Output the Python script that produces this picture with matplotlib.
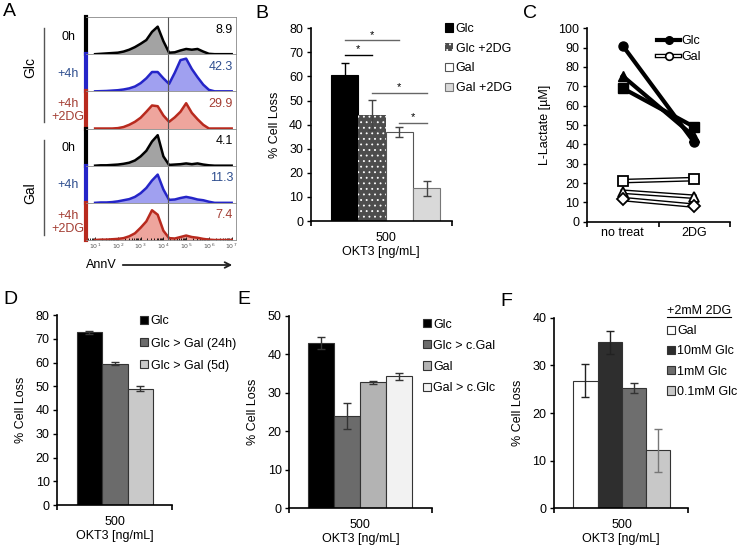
import numpy as np
import matplotlib
matplotlib.use("Agg")
import matplotlib.pyplot as plt
from matplotlib.lines import Line2D
from matplotlib.patches import FancyArrowPatch

plt.rcParams['font.family'] = ['Liberation Sans', 'DejaVu Sans']
plt.rcParams['font.size'] = 9
plt.rcParams['hatch.linewidth'] = 0.6

W, H = 739, 549

# ---------------- data ----------------
# A: AnnV histograms, x in log10(AnnV), heights relative to row height
annv_log = [1.0, 1.25, 1.5, 1.75, 2.0, 2.25, 2.5, 2.75, 3.0, 3.25, 3.5, 3.75,
            4.0, 4.25, 4.5, 4.75, 5.0, 5.25, 5.5, 5.75, 6.0, 6.25, 6.5, 6.75, 7.0]
glc_0h = [0, 0.01, 0.02, 0.03, 0.04, 0.07, 0.12, 0.19, 0.28, 0.38, 0.60, 0.74,
          0.35, 0.04, 0.05, 0.10, 0.14, 0.12, 0.14, 0.07, 0.01, 0, 0, 0, 0]
glc_4h = [0, 0.005, 0.01, 0.02, 0.03, 0.05, 0.08, 0.13, 0.22, 0.35, 0.52, 0.52,
          0.35, 0.20, 0.50, 0.84, 0.88, 0.60, 0.38, 0.18, 0.04, 0, 0, 0, 0]
glc_4h_2dg = [0, 0, 0, 0, 0.01, 0.04, 0.10, 0.18, 0.29, 0.45, 0.62, 0.60,
              0.35, 0.18, 0.30, 0.45, 0.68, 0.42, 0.25, 0.10, 0, 0, 0, 0, 0]
gal_0h = [0, 0.01, 0.01, 0.02, 0.03, 0.05, 0.08, 0.14, 0.25, 0.40, 0.65, 0.82,
          0.25, 0.02, 0.03, 0.04, 0.06, 0.04, 0.06, 0.03, 0.01, 0, 0, 0, 0]
gal_4h = [0, 0.01, 0.01, 0.02, 0.04, 0.07, 0.10, 0.16, 0.26, 0.40, 0.60, 0.76,
          0.36, 0.08, 0.09, 0.13, 0.16, 0.13, 0.09, 0.07, 0.03, 0, 0, 0, 0]
gal_4h_2dg = [0, 0.01, 0.01, 0.02, 0.03, 0.05, 0.10, 0.18, 0.33, 0.50, 0.80, 0.68,
              0.25, 0.05, 0.04, 0.08, 0.12, 0.08, 0.06, 0.03, 0.01, 0, 0, 0, 0]
annv_pct = ['8.9', '42.3', '29.9', '4.1', '11.3', '7.4']
row_labels = ['0h', '+4h', '+4h\n+2DG', '0h', '+4h', '+4h\n+2DG']
gate_log = 4.21

# B
b_labels = ['Glc', 'Glc +2DG', 'Gal', 'Gal +2DG']
b_vals = [60.5, 44.0, 37.0, 13.5]
b_errs = [5.0, 6.2, 2.0, 3.0]
b_sig = [(0, 1, 69.0), (0, 2, 75.0), (1, 3, 53.3), (2, 3, 40.7)]

# C
c_groups = ['no treat', '2DG']
c_glc = [[91.0, 41.0], [75.3, 44.0], [69.0, 49.0]]
c_gal = [[21.0, 22.0], [15.5, 12.9], [11.7, 8.3]]

# D
d_labels = ['Glc', 'Glc > Gal (24h)', 'Glc > Gal (5d)']
d_vals = [72.7, 59.5, 49.0]
d_errs = [0.6, 0.6, 1.2]

# E
e_labels = ['Glc', 'Glc > c.Gal', 'Gal', 'Gal > c.Glc']
e_vals = [43.0, 24.0, 32.8, 34.3]
e_errs = [1.6, 3.3, 0.4, 1.0]

# F
f_labels = ['Gal', '10mM Glc', '1mM Glc', '0.1mM Glc']
f_vals = [26.8, 34.8, 25.3, 12.2]
f_errs = [3.4, 2.5, 1.0, 4.5]


def px_rect(x0, y0, x1, y1):
    return [x0 / W, 1 - y1 / H, (x1 - x0) / W, (y1 - y0) / H]


def fx(x):
    return x / W


def fy(y):
    return 1 - y / H


fig = plt.figure(figsize=(W / 100, H / 100), dpi=100)

# ---------------- panel A ----------------
hists = [glc_0h, glc_4h, glc_4h_2dg, gal_0h, gal_4h, gal_4h_2dg]
line_cols = ['black', '#2525c8', '#b82a1e'] * 2
fill_cols = ['#a3a3a3', '#a0a0f0', '#eea59d'] * 2
text_cols = ['black', '#2d4d8e', '#a33d33'] * 2
xs = 10 ** np.array(annv_log)
top, bot = 17, 240
rh = (bot - top) / 6
for k in range(6):
    ax = fig.add_axes(px_rect(86, top + k * rh, 236, top + (k + 1) * rh))
    ax.fill_between(xs, hists[k], color=fill_cols[k], lw=0)
    ax.plot(xs, hists[k], color=line_cols[k], lw=1.8)
    ax.set_xscale('log')
    ax.set_xlim(10 ** 0.6, 10 ** 7.19)
    ax.set_ylim(0, 1)
    ax.axvline(10 ** gate_log, color='#555555', lw=0.8)
    for s in ['top', 'right', 'bottom']:
        ax.spines[s].set_color('#888888')
        ax.spines[s].set_linewidth(0.6)
    ax.spines['left'].set_color(line_cols[k])
    ax.spines['left'].set_linewidth(3)
    ax.set_yticks([])
    ax.text(0.98, 0.66, annv_pct[k], transform=ax.transAxes, ha='right',
            va='center', color=text_cols[k], fontsize=9)
    fig.text(fx(68), fy(top + (k + 0.5) * rh + 1), row_labels[k], ha='center',
             va='center', color=text_cols[k], fontsize=9, linespacing=1.1)
    if k < 5:
        ax.set_xticks([])
        ax.minorticks_off()
    else:
        ax.set_xticks([10 ** d for d in range(1, 8)],
                      ['$10^{%d}$' % d for d in range(1, 8)])
        ax.tick_params(axis='x', which='both', direction='in', labelsize=4.5,
                       labelcolor='#555555', pad=1.5, width=0.6)
        ax.tick_params(axis='x', which='major', length=2.5)
        ax.tick_params(axis='x', which='minor', length=1.5)

fig.text(fx(30), fy(68), 'Glc', rotation=90, ha='center', va='center', fontsize=10)
fig.text(fx(30), fy(193), 'Gal', rotation=90, ha='center', va='center', fontsize=10)
fig.add_artist(Line2D([fx(44.3)] * 2, [fy(28), fy(122)], color='#555555', lw=1))
fig.add_artist(Line2D([fx(44.3)] * 2, [fy(140), fy(235)], color='#555555', lw=1))
fig.text(fx(86), fy(265), 'AnnV', ha='left', va='center', fontsize=9)
fig.add_artist(FancyArrowPatch((fx(120), fy(265)), (fx(235), fy(265)),
                               transform=fig.transFigure, arrowstyle='->',
                               mutation_scale=10, lw=1.3, color='#222222'))


# ---------------- bar panels ----------------
def bar_panel(rect, labels, vals, errs, colors, edges, ecols, ymax, ystep,
              bar_left, bar_w, leg_xy, leg_space, hatches=None):
    x0, y0, x1, y1 = rect
    ax = fig.add_axes(px_rect(*rect))
    lo = -0.5 - (bar_left - x0) / bar_w
    hi = lo + (x1 - x0) / bar_w
    n = len(vals)
    for i in range(n):
        h = hatches[i] if hatches else None
        ax.bar(i, vals[i], width=1.0, color=colors[i], edgecolor=edges[i],
               lw=0.8 if h is None else 0, hatch=h, label=labels[i], zorder=2)
        ax.errorbar(i, vals[i], yerr=errs[i], fmt='none', ecolor=ecols[i],
                    elinewidth=1, capsize=3, capthick=1, zorder=3)
    ax.set_xlim(lo, hi)
    ax.set_ylim(0, ymax)
    ax.set_yticks(np.arange(0, ymax + 1, ystep))
    for s in ['top', 'right']:
        ax.spines[s].set_visible(False)
    for s in ['left', 'bottom']:
        ax.spines[s].set_linewidth(1.2)
    ax.set_xticks([(n - 1) / 2], ['500'])
    ax.set_xticks([lo, hi], minor=True)
    ax.tick_params(axis='x', which='major', length=0, pad=8)
    ax.tick_params(axis='x', which='minor', length=3.5, width=1.2)
    ax.tick_params(axis='y', length=3, width=1, pad=2.5)
    ax.set_xlabel('OKT3 [ng/mL]', labelpad=1)
    ax.set_ylabel('% Cell Loss', labelpad=6)
    lx, ly = leg_xy
    ax.legend(loc='upper left', bbox_to_anchor=(fx(lx), fy(ly - 6.5)),
              bbox_transform=fig.transFigure, frameon=False, borderpad=0,
              borderaxespad=0, handlelength=0.65, handleheight=0.65,
              handletextpad=0.2, labelspacing=(leg_space - 13.5) / 12.5)
    return ax


axb = bar_panel((310.7, 28.3, 451.7, 221), b_labels, b_vals, b_errs,
                ['black', '#4d4d4d', 'white', '#d9d9d9'],
                ['black', 'white', '#555555', '#777777'],
                ['black', '#444444', '#444444', '#444444'],
                80, 10, 331, 27.3, (445, 29.5), 21.2,
                hatches=[None, '...', None, None])
sig_cols = ['black', '#666666', '#666666', '#666666']
for (i, j, y), c in zip(b_sig, sig_cols):
    axb.plot([i, j], [y, y], color=c, lw=1, zorder=4)
    axb.text((i + j) / 2, y + 0.3, '*', ha='center', va='bottom', fontsize=8)

bar_panel((57.3, 315, 171.7, 505), d_labels, d_vals, d_errs,
          ['black', '#6b6b6b', '#c9c9c9'], ['#333333'] * 3, ['#333333'] * 3,
          80, 10, 76.7, 25.4, (140, 322), 23.5)

bar_panel((289.3, 316, 431.7, 508.3), e_labels, e_vals, e_errs,
          ['black', '#6b6b6b', '#b3b3b3', '#f2f2f2'], ['#333333'] * 4,
          ['#333333'] * 4, 50, 10, 308, 26.1, (422.7, 325), 22.7)

bar_panel((554, 317.7, 688.3, 508.3), f_labels, f_vals, f_errs,
          ['white', '#2e2e2e', '#6e6e6e', '#c8c8c8'], ['#333333'] * 4,
          ['#222222', '#222222', '#333333', '#777777'],
          40, 10, 573.3, 24.2, (666.7, 331.7), 21.7)
fig.text(fx(666.7), fy(310.5), '+2mM 2DG', ha='left', va='center', fontsize=9)
fig.add_artist(Line2D([fx(666.7), fx(731)], [fy(316.5), fy(316.5)], color='black', lw=0.8))

# ---------------- panel C ----------------
axc = fig.add_axes(px_rect(587, 28.3, 730, 221.7))
cx = [0.5, 1.5]
for vals, m in zip(c_glc, ['o', '^', 's']):
    axc.plot(cx, vals, color='black', lw=3, marker=m, ms=6.5, mfc='black',
             mec='black', zorder=3)
for vals, m in zip(c_gal, ['s', '^', 'D']):
    axc.plot(cx, vals, color='black', lw=3.4, zorder=2)
    axc.plot(cx, vals, color='white', lw=1.4, marker=m, ms=6.5, mfc='white',
             mec='black', mew=1.3, zorder=3)
axc.set_xlim(0, 2)
axc.set_ylim(0, 100)
axc.set_yticks(np.arange(0, 101, 10))
axc.set_xticks(cx, c_groups)
axc.set_xticks([0, 1, 2], minor=True)
axc.tick_params(axis='x', which='major', length=0, pad=4)
axc.tick_params(axis='x', which='minor', length=3.5, width=1.2)
axc.tick_params(axis='y', length=3, width=1, pad=2.5)
for s in ['top', 'right']:
    axc.spines[s].set_visible(False)
for s in ['left', 'bottom']:
    axc.spines[s].set_linewidth(1.2)
axc.set_ylabel('L-Lactate [µM]', labelpad=5)
h_glc = Line2D([], [], color='black', lw=3, marker='o', ms=5.5)
h_gal = (Line2D([], [], color='black', lw=3.2),
         Line2D([], [], color='white', lw=1.3, marker='o', ms=5.5, mfc='white',
                mec='black', mew=1.2))
axc.legend([h_glc, h_gal], ['Glc', 'Gal'], loc='upper left',
           bbox_to_anchor=(fx(656.7), fy(35)), bbox_transform=fig.transFigure,
           frameon=False, borderpad=0, borderaxespad=0, handlelength=1.9,
           handletextpad=0.05, labelspacing=0.35)

# panel letters
for letter, (x, y) in zip('ABCDEF', [(3, 12), (255, 13), (523, 13),
                                     (3, 299), (237, 299), (500, 302)]):
    fig.text(fx(x), fy(y), letter, ha='left', va='center', fontsize=14)

fig.savefig('out.png', dpi=100)
